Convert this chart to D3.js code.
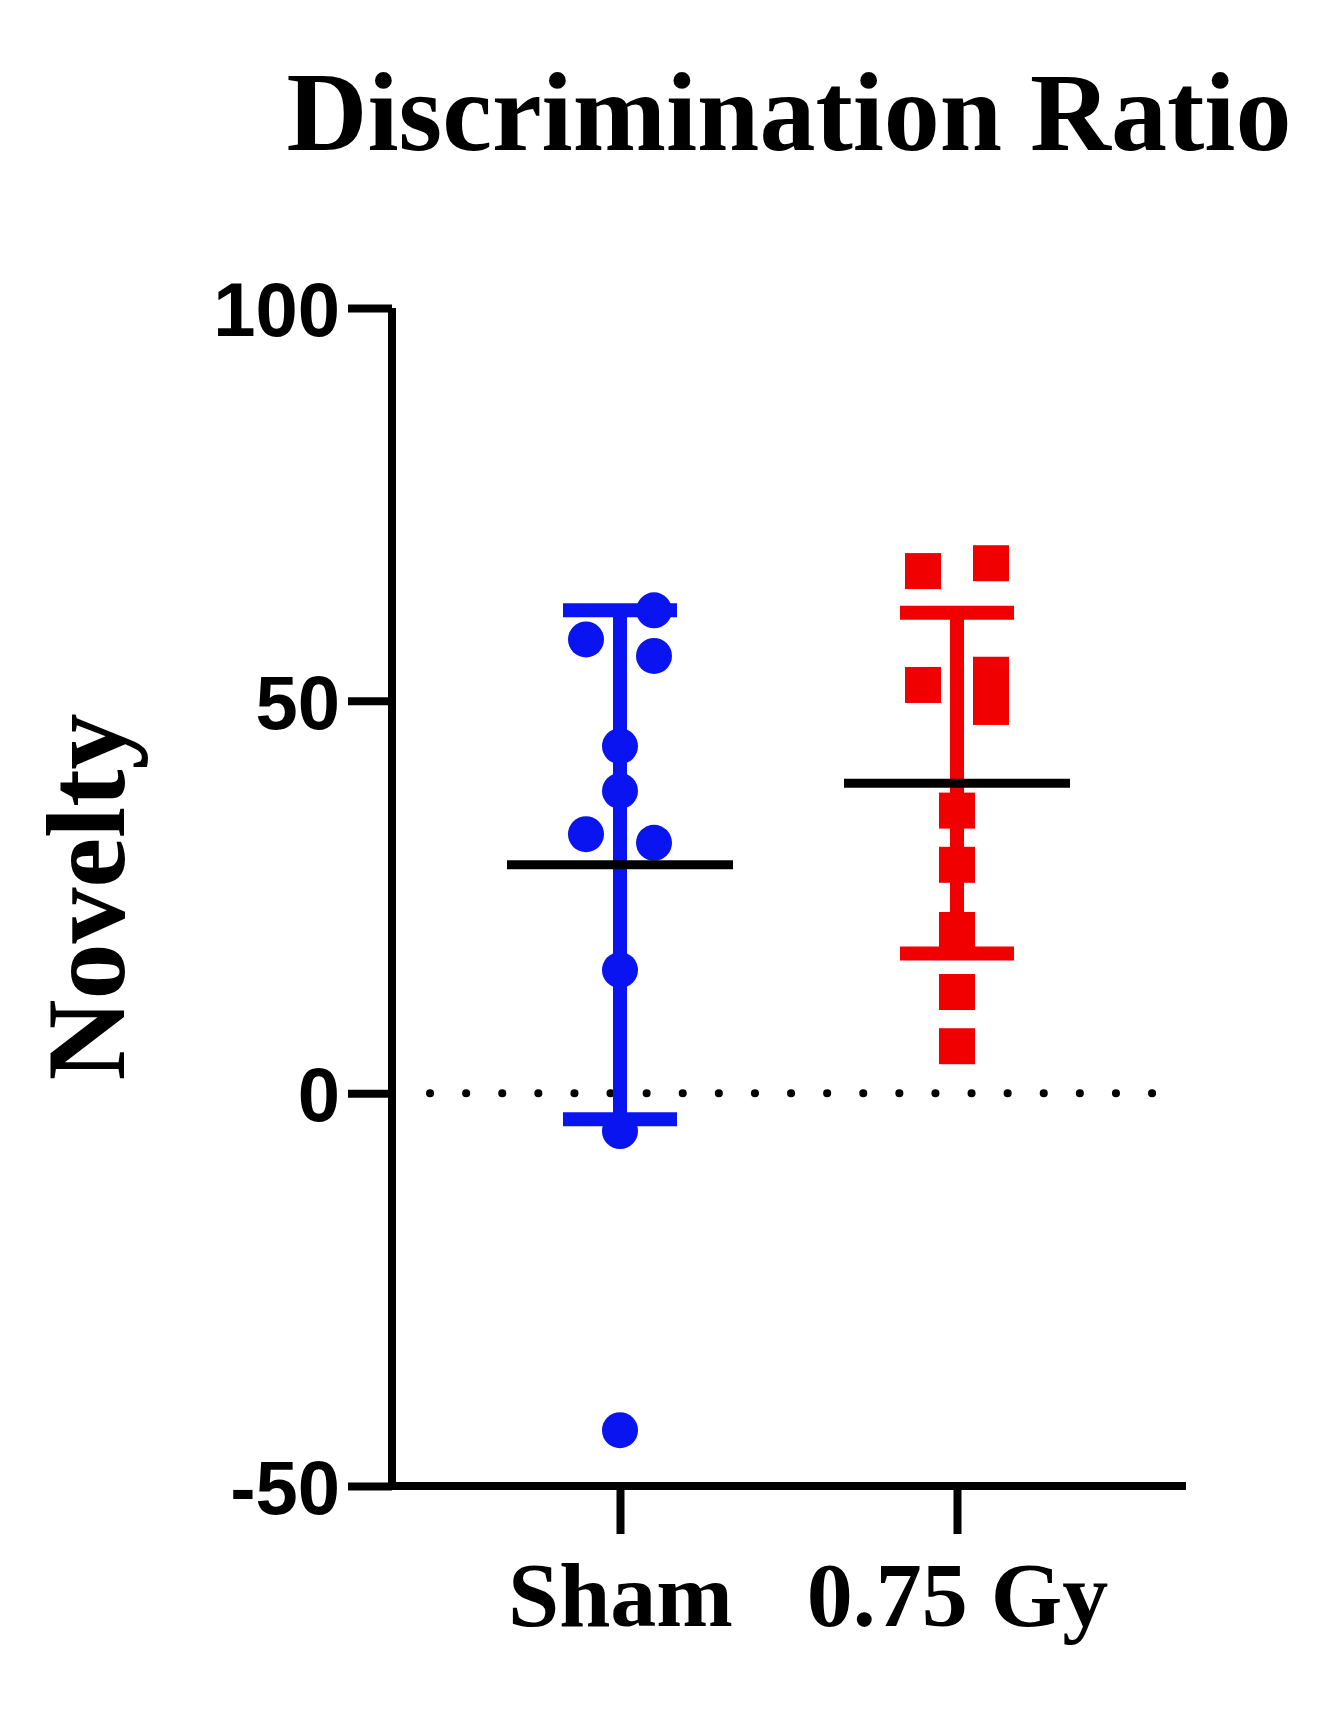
<!DOCTYPE html>
<html><head><meta charset="utf-8">
<script src="https://cdn.jsdelivr.net/npm/d3@7"></script>
<style>body{margin:0;background:#fff}</style>
</head><body><div id="chart"></div>
<script>
// groups and values
var groups = ["Sham", "0.75 Gy"];
var groupColors = ["#0a14f0", "#f00000"];
var shamValues = [61.5, 57.8, 55.7, 44.2, 38.5, 33.0, 31.9, 15.7, -4.8, -42.9];
var shamCols   = [1, -1, 1, 0, 0, -1, 1, 0, 0, 0];
var gyValues   = [66.5, 67.5, 52.0, 53.3, 49.2, 36.0, 29.1, 20.8, 12.9, 6.0];
var gyCols     = [-1, 1, -1, 1, 1, 0, 0, 0, 0, 0];
var means = [29.1, 39.5];
var sds = [32.4, 21.7];
var yTicks = [-50, 0, 50, 100];

var svgWidth = 1328, svgHeight = 1722;
var svg = d3.select("#chart").append("svg")
  .attr("width", svgWidth).attr("height", svgHeight);

var x = d3.scalePoint().domain(groups).range([620, 957]);
var y = d3.scaleLinear().domain([-50, 100]).range([1486, 308]);
var axisLeftX = 392, axisRightX = 1186;

// title
svg.append("text").attr("x", 789).attr("y", 150)
  .attr("text-anchor", "middle")
  .style("font", "bold 112px 'Liberation Serif'")
  .text("Discrimination Ratio");

// y label
svg.append("text")
  .attr("transform", "translate(124," + y(25) + ") rotate(-90)")
  .attr("text-anchor", "middle")
  .style("font", "bold 112px 'Liberation Serif'")
  .text("Novelty");

// zero dotted line
svg.append("line")
  .attr("x1", 430).attr("x2", 1180)
  .attr("y1", y(0)).attr("y2", y(0))
  .attr("stroke", "#000").attr("stroke-width", 8)
  .attr("stroke-linecap", "round")
  .attr("stroke-dasharray", "0.1 36");

// axes
var leftAxis = d3.axisLeft(y).tickValues(yTicks).tickSize(44).tickPadding(8)
  .tickFormat(function(d) { return String(d); });
var gy = svg.append("g").attr("transform", "translate(" + axisLeftX + ",0)").call(leftAxis);
gy.select(".domain").attr("stroke-width", 8).attr("d", "M0," + (y(-50) + 4) + "V" + y(100));
gy.selectAll(".tick line").attr("stroke-width", 8);
gy.selectAll(".tick text")
  .style("font", "bold 76px 'Liberation Sans'").attr("dy", "0.36em");

svg.append("line")
  .attr("x1", axisLeftX - 4).attr("x2", axisRightX)
  .attr("y1", y(-50)).attr("y2", y(-50))
  .attr("stroke", "#000").attr("stroke-width", 8);

var bottomAxis = d3.axisBottom(x).tickSize(48).tickPadding(14);
var gx = svg.append("g").attr("transform", "translate(0," + y(-50) + ")").call(bottomAxis);
gx.select(".domain").remove();
gx.selectAll(".tick line").attr("stroke-width", 8);
gx.selectAll(".tick text")
  .style("font", "bold 92px 'Liberation Serif'").attr("dy", "0.85em");

var colStep = 34;

// error bars
groups.forEach(function(g, i) {
  var cx = x(g);
  var eb = svg.append("g").attr("stroke", groupColors[i]).attr("stroke-width", 14);
  eb.append("line").attr("x1", cx).attr("x2", cx)
    .attr("y1", y(means[i] + sds[i])).attr("y2", y(means[i] - sds[i]));
  [means[i] + sds[i], means[i] - sds[i]].forEach(function(v) {
    eb.append("line").attr("x1", cx - 57).attr("x2", cx + 57)
      .attr("y1", y(v)).attr("y2", y(v));
  });
});

// sham points
svg.selectAll("circle.sham").data(shamValues).enter().append("circle")
  .attr("cx", function(d, i) { return x("Sham") + shamCols[i] * colStep; })
  .attr("cy", function(d) { return y(d); })
  .attr("r", 18).attr("fill", groupColors[0]);

// 0.75 Gy points
svg.selectAll("rect.gy").data(gyValues).enter().append("rect")
  .attr("x", function(d, i) { return x("0.75 Gy") + gyCols[i] * colStep - 18; })
  .attr("y", function(d) { return y(d) - 18; })
  .attr("width", 36).attr("height", 36).attr("fill", groupColors[1]);

// means
groups.forEach(function(g, i) {
  svg.append("line").attr("x1", x(g) - 113).attr("x2", x(g) + 113)
    .attr("y1", y(means[i])).attr("y2", y(means[i]))
    .attr("stroke", "#000").attr("stroke-width", 9);
});
</script></body></html>
